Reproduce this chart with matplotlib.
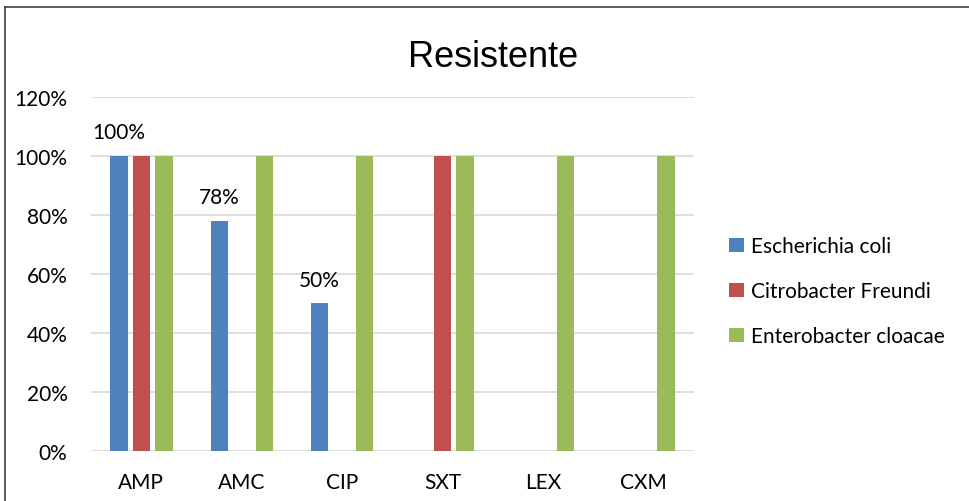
import matplotlib
matplotlib.use("Agg")
import matplotlib.pyplot as plt
from matplotlib.lines import Line2D
from matplotlib.patches import Patch
import numpy as np

# Data
categories = ["AMP", "AMC", "CIP", "SXT", "LEX", "CXM"]
series_names = ["Escherichia coli", "Citrobacter Freundi", "Enterobacter cloacae"]
e_coli = [1.00, 0.78, 0.50, 0.0, 0.0, 0.0]
citrobacter = [1.00, 0.0, 0.0, 1.00, 0.0, 0.0]
enterobacter = [1.00, 1.00, 1.00, 1.00, 1.00, 1.00]
labelled = [True, True, True, False, False, False]  # only e. coli labels shown
y_ticks = [0, 0.2, 0.4, 0.6, 0.8, 1.0, 1.2]

colors = ["#4F81BD", "#C0504D", "#9BBB59"]
font = "Lato"
fs = 15

fig = plt.figure(figsize=(9.69, 5.02), dpi=100)
ax = fig.add_axes([0.094, 0.0996, 0.622, 0.706])

x = np.arange(len(categories))
width = 0.174
step = 0.224
all_series = [e_coli, citrobacter, enterobacter]
bars = []
for i, (vals, col) in enumerate(zip(all_series, colors)):
    b = ax.bar(x + (i - 1) * step, vals, width, color=col, zorder=3)
    bars.append(b)

# data labels above E. coli bars
for rect, v, show in zip(bars[0], e_coli, labelled):
    if show:
        ax.annotate(f"{v:.0%}", (rect.get_x() + rect.get_width() / 2, v),
                    xytext=(0, 17), textcoords="offset points",
                    ha="center", va="center", fontsize=fs, family=font)

ax.set_xlim(-0.5, len(categories) - 0.5)
ax.set_ylim(0, 1.2)
ax.set_yticks(y_ticks)
ax.set_yticklabels([f"{t:.0%}" for t in y_ticks], fontsize=fs, family=font)
ax.set_xticks(x)
ax.set_xticklabels(categories, fontsize=fs, family=font)
ax.tick_params(axis="both", length=0)
ax.tick_params(axis="x", pad=15)
ax.tick_params(axis="y", pad=17)
ax.grid(axis="y", color="#D9D9D9", linewidth=1.2, zorder=0)
for s in ax.spines.values():
    s.set_visible(False)

fig.text(0.509, 0.885, "Resistente", ha="center", va="center",
         fontsize=26, family="Liberation Sans")

handles = [Patch(facecolor=c, edgecolor="none") for c in colors]
fig.legend(handles, series_names, loc="center left",
           bbox_to_anchor=(0.733, 0.418), frameon=False,
           prop={"family": font, "size": fs},
           handlelength=0.7, handleheight=0.7, handletextpad=0.35,
           labelspacing=1.2)

# outer frame (top and left edges visible)
fig.add_artist(Line2D([0.005, 1.0], [0.984, 0.984], color="#404040", lw=1.2,
                      transform=fig.transFigure))
fig.add_artist(Line2D([0.005, 0.005], [0.0, 0.984], color="#404040", lw=1.2,
                      transform=fig.transFigure))

fig.savefig("out.png", dpi=100)
